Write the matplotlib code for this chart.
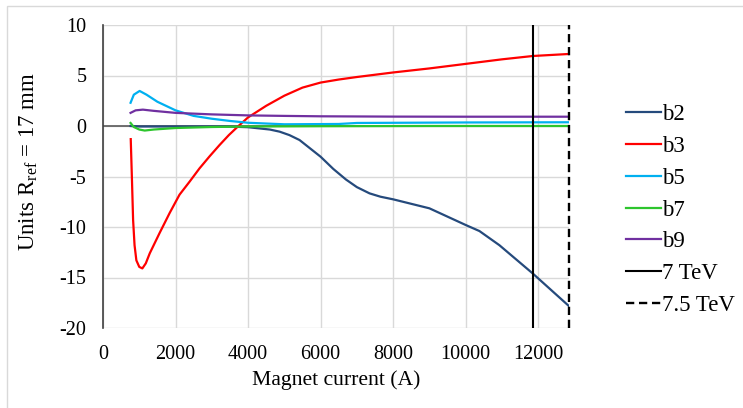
import numpy as np
import matplotlib
matplotlib.use("Agg")
import matplotlib.pyplot as plt
from matplotlib.patches import Rectangle

#---------------------FONT------------------------
matplotlib.rc('font', family='Liberation Serif', size=14.5)
matplotlib.rc('mathtext', fontset='custom', rm='Liberation Serif', it='Liberation Serif:italic')
matplotlib.rc('axes', unicode_minus=False)

#---------------------DATA------------------------
b2_I = [760, 1000, 2000, 3000, 3500, 4000, 4600, 4870, 5140, 5420, 6000, 6350, 6700,
        7000, 7350, 7650, 8000, 9000, 10000, 10380, 10930, 11850, 12840]
b2 = [0.0, -0.05, -0.05, -0.05, -0.06, -0.12, -0.35, -0.56, -0.9, -1.39, -3.04, -4.25, -5.3,
      -6.05, -6.67, -7.0, -7.26, -8.15, -9.8, -10.4, -11.8, -14.6, -17.8]

b3_I = [765, 800, 830, 870, 920, 1000, 1085, 1180, 1290, 1560, 1840, 2110, 2390,
        2660, 2940, 3210, 3470, 3720, 4000, 4500, 5000, 5500, 6000, 6500, 7000, 8000, 9000,
        10000, 11000, 11850, 12840]
b3 = [-1.3, -5.5, -9.3, -11.8, -13.3, -13.95, -14.1, -13.6, -12.6, -10.6, -8.6, -6.8, -5.5,
      -4.2, -3.0, -1.9, -0.9, -0.05, 0.85, 2.0, 3.0, 3.8, 4.3, 4.6, 4.85, 5.3, 5.7,
      6.15, 6.6, 6.93, 7.13]

b5_I = [760, 850, 1010, 1200, 1500, 2000, 2500, 3000, 3500, 4000, 5000, 6500,
        7000, 10000, 12840]
b5 = [2.3, 3.1, 3.47, 3.1, 2.4, 1.55, 1.0, 0.72, 0.5, 0.32, 0.17, 0.2,
      0.3, 0.35, 0.37]

b7_I = [760, 850, 1000, 1150, 1400, 2000, 3000, 4000, 6000, 9000, 12840]
b7 = [0.3, -0.1, -0.35, -0.45, -0.35, -0.2, -0.1, -0.05, -0.02, 0.0, 0.0]

b9_I = [760, 900, 1100, 1400, 2000, 3000, 4000, 5000, 6000, 8000, 10000, 12840]
b9 = [1.3, 1.55, 1.62, 1.5, 1.3, 1.15, 1.05, 1.0, 0.96, 0.93, 0.92, 0.92]

I_7TeV = 11850
I_75TeV = 12840

#------------Figure Layout--------------
fig = plt.figure(figsize=(7.43, 4.08), dpi=100)
ax = fig.add_axes([103/743., 1-328/408., (569-103)/743., (328-25)/408.])

# chart border
fig.patches.append(Rectangle((7/743., -0.01), 1.0, 1-6/408.+0.01, transform=fig.transFigure,
                             fill=False, edgecolor='#D9D9D9', linewidth=1.0))

ax.set_xlim(0, 12850)
ax.set_ylim(-20, 10)
ax.set_xticks(np.arange(0, 12001, 2000))
ax.set_yticks(np.arange(-20, 11, 5))
ax.grid(True, color='#D9D9D9', linewidth=1.0)
ax.set_axisbelow(True)
for s in ['top', 'right', 'bottom']:
    ax.spines[s].set_visible(False)
ax.spines['left'].set_color('#404040')
ax.spines['left'].set_linewidth(1.2)
ax.tick_params(length=0, pad=12)
ax.axhline(0, color='#595959', linewidth=1.2, zorder=1.5)

#PLOT
lw = 1.6
ax.plot(b2_I, b2, color='#254A7C', linewidth=lw, label='b2')
ax.plot(b3_I, b3, color='#FF0000', linewidth=lw, label='b3')
ax.plot(b5_I, b5, color='#00B0F0', linewidth=lw, label='b5')
ax.plot(b7_I, b7, color='#2DC52D', linewidth=lw, label='b7')
ax.plot(b9_I, b9, color='#7030A0', linewidth=lw, label='b9')
ax.axvline(I_7TeV, color='black', linewidth=1.5, label='7 TeV')
ax.axvline(I_75TeV, color='black', linewidth=1.7, linestyle=(0, (3.5, 2)),
           label='7.5 TeV', clip_on=False)

ax.set_xlabel('Magnet current (A)', fontsize=15.6, labelpad=5)
ax.set_ylabel(r'Units R$_{\rm ref}$ = 17 mm', fontsize=16.5)
ax.yaxis.set_label_coords(-0.135, 0.551)

fig.legend(loc='center left', bbox_to_anchor=(626/743., 1-210/408.), frameon=False,
           fontsize=16.5, handlelength=1.53, handletextpad=0.05, labelspacing=0.476,
           borderpad=0, borderaxespad=0)

#SAVING
fig.savefig("out.png", dpi=100)
